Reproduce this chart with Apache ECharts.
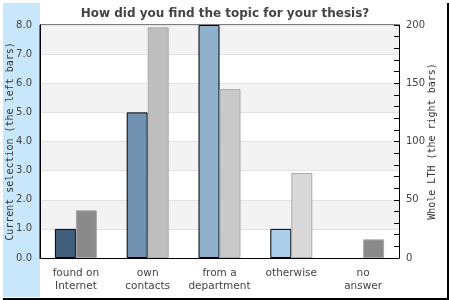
<!DOCTYPE html>
<html>
<head>
<meta charset="utf-8">
<script src="https://cdn.jsdelivr.net/npm/echarts@6/dist/echarts.min.js"></script>
<style>
html, body { margin: 0; padding: 0; background: #fff; }
#chart { width: 450px; height: 300px; }
</style>
</head>
<body>
<div id="chart"></div>
<script>
var categories = ['found on\nInternet', 'own\ncontacts', 'from a\ndepartment', 'otherwise', 'no\nanswer'];
var currentValues = [1, 5, 8, 1, 0];
var wholeValues = [41, 198, 145, 73, 16];
var currentColors = ['#3f5f7d', '#7092b0', '#8fb1cd', '#abcfea', '#c8e0f2'];
var wholeColors = ['#8a8a8a', '#bebebe', '#c9c9c9', '#d9d9d9', '#8a8a8a'];

var myChart = echarts.init(document.getElementById('chart'));

var option = {
    animation: false,
    title: {
        text: 'How did you find the topic for your thesis?',
        left: 'center',
        top: 3,
        textStyle: { fontFamily: 'DejaVu Sans', fontSize: 12, fontWeight: 'bold', color: '#444' }
    },
    graphic: [
        { type: 'rect', z: -10, shape: { x: 3, y: 3, width: 37, height: 294 }, style: { fill: '#c8e7fb' } },
        { type: 'rect', z: -10, shape: { x: 447, y: 3, width: 2, height: 297 }, style: { fill: '#000' } },
        { type: 'rect', z: -10, shape: { x: 3, y: 298, width: 446, height: 2 }, style: { fill: '#000' } }
    ],
    grid: {
        left: 40, right: 51, top: 25, bottom: 42,
        outerBoundsMode: 'none',
        containLabel: false,
        show: true, borderColor: '#000', borderWidth: 1, backgroundColor: 'transparent'
    },
    xAxis: {
        type: 'category',
        data: categories,
        axisLine: { lineStyle: { color: '#000' } },
        axisTick: { show: false },
        axisLabel: { interval: 0, fontFamily: 'DejaVu Sans', fontSize: 10.5, color: '#444', margin: 9, lineHeight: 13 }
    },
    yAxis: [
        {
            type: 'value',
            min: 0, max: 8, interval: 1,
            name: 'Current selection (the left bars)',
            nameLocation: 'middle',
            nameGap: 25,
            nameMoveOverlap: false,
            nameTextStyle: { fontFamily: 'DejaVu Sans Mono', fontSize: 10, color: '#333' },
            axisLine: { show: true, lineStyle: { color: '#000' } },
            axisTick: { show: false },
            axisLabel: {
                fontFamily: 'DejaVu Sans', fontSize: 10, color: '#444', margin: 8,
                formatter: function (v) { return v.toFixed(1); }
            },
            splitLine: { show: true, lineStyle: { color: '#e2e2e2' } },
            splitArea: { show: true, areaStyle: { color: ['#ffffff', '#f3f3f3'] } }
        },
        {
            type: 'value',
            min: 0, max: 200, interval: 50,
            name: 'Whole LTH (the right bars)',
            nameLocation: 'middle',
            nameGap: 28,
            nameMoveOverlap: false,
            nameTextStyle: { fontFamily: 'DejaVu Sans Mono', fontSize: 10, color: '#333' },
            axisLine: { show: true, lineStyle: { color: '#000' } },
            axisTick: { show: true, inside: true, length: 5, lineStyle: { color: '#000' } },
            minorTick: { show: true, splitNumber: 5, length: 5, lineStyle: { color: '#000' } },
            axisLabel: { fontFamily: 'DejaVu Sans', fontSize: 10, color: '#444', margin: 7 },
            splitLine: { show: false }
        }
    ],
    series: [
        {
            name: 'Current selection',
            type: 'bar',
            yAxisIndex: 0,
            barWidth: 21,
            barGap: '0%',
            data: currentValues.map(function (v, i) {
                return { value: v, itemStyle: { color: currentColors[i], borderWidth: v === 0 ? 0 : 1 } };
            }),
            itemStyle: { borderColor: '#000', borderWidth: 1 }
        },
        {
            name: 'Whole LTH',
            type: 'bar',
            yAxisIndex: 1,
            barWidth: 21,
            data: wholeValues.map(function (v, i) {
                return { value: v, itemStyle: { color: wholeColors[i] } };
            }),
            itemStyle: { borderColor: '#aaaaaa', borderWidth: 1 }
        }
    ]
};

myChart.setOption(option);
</script>
</body>
</html>
